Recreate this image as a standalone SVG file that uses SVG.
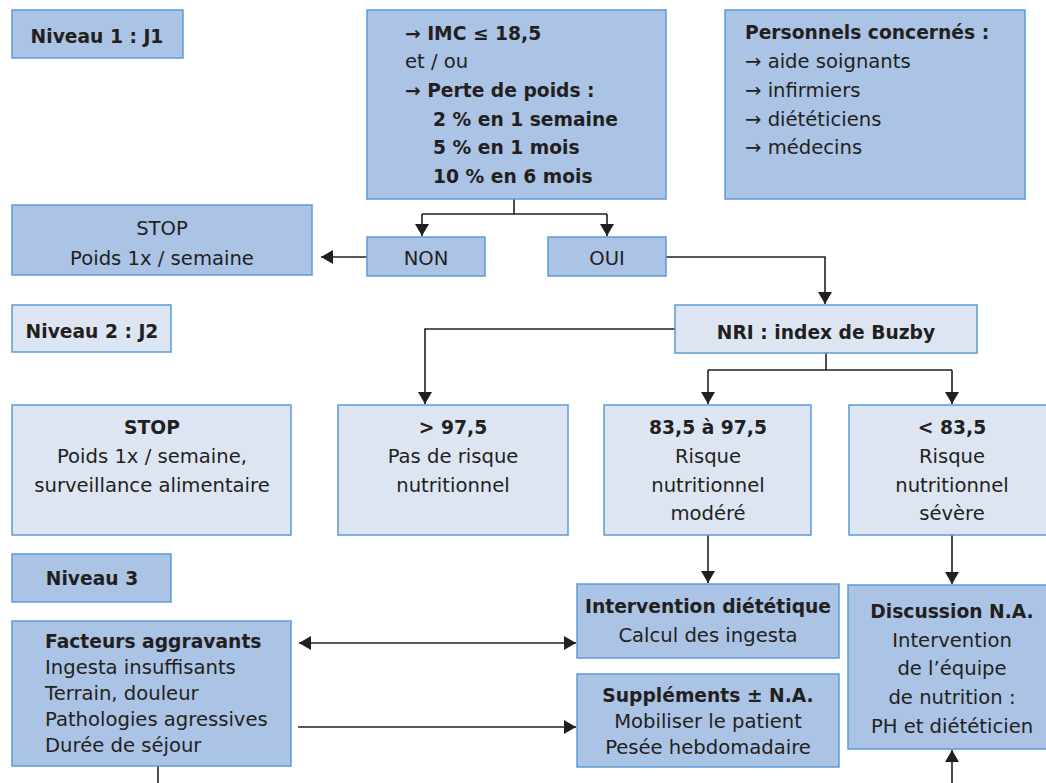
<svg xmlns="http://www.w3.org/2000/svg" width="1046" height="783" viewBox="0 0 1046 783">
<style>
text{font-family:"DejaVu Sans",sans-serif;font-size:19.6px;fill:#231f20}
.b{font-weight:bold;font-size:18.7px}
.c{text-anchor:middle}
.dk{fill:#abc3e5;stroke:#5b9bd5;stroke-width:1.5}
.lt{fill:#dde5f3;stroke:#5b9bd5;stroke-width:1.5}
.ln{fill:none;stroke:#231f20;stroke-width:1.6}
</style>
<defs>
<marker id="ah" viewBox="0 0 12 14" refX="12" refY="7" markerWidth="12" markerHeight="14" markerUnits="userSpaceOnUse" orient="auto-start-reverse">
<path d="M0,0 L12,7 L0,14 Z" fill="#231f20"/>
</marker>
</defs>
<g id="connectors">
<path class="ln" d="M514,199 V214 M422,214 H607" />
<path class="ln" d="M422,214 V236" marker-end="url(#ah)"/>
<path class="ln" d="M607,214 V236" marker-end="url(#ah)"/>
<path class="ln" d="M367,257 H321" marker-end="url(#ah)"/>
<path class="ln" d="M666,257 H825 V304" marker-end="url(#ah)"/>
<path class="ln" d="M675,329 H425 V404" marker-end="url(#ah)"/>
<path class="ln" d="M826,353 V370 M708,370 H952"/>
<path class="ln" d="M708,370 V404" marker-end="url(#ah)"/>
<path class="ln" d="M952,370 V404" marker-end="url(#ah)"/>
<path class="ln" d="M708,535 V583" marker-end="url(#ah)"/>
<path class="ln" d="M952,535 V584" marker-end="url(#ah)"/>
<path class="ln" d="M299,643 H576" marker-start="url(#ah)" marker-end="url(#ah)"/>
<path class="ln" d="M298,727 H576" marker-end="url(#ah)"/>
<path class="ln" d="M158,766 V783"/>
<path class="ln" d="M952,783 V750" marker-end="url(#ah)"/>
</g>
<g id="niveau1">
<rect class="dk" x="12" y="10" width="171" height="48"/>
<text class="b c" x="97" y="43">Niveau 1 : J1</text>
</g>
<g id="criteres">
<rect class="dk" x="367" y="10" width="299" height="189"/>
<text class="b" x="405" y="40">→ IMC ≤ 18,5</text>
<text x="405" y="68">et / ou</text>
<text class="b" x="405" y="97">→ Perte de poids :</text>
<text class="b" x="433" y="126">2 % en 1 semaine</text>
<text class="b" x="433" y="154">5 % en 1 mois</text>
<text class="b" x="433" y="183">10 % en 6 mois</text>
</g>
<g id="personnels">
<rect class="dk" x="725" y="10" width="300" height="189"/>
<text class="b" x="745" y="39">Personnels concernés :</text>
<text x="745" y="68">→ aide soignants</text>
<text x="745" y="97">→ infirmiers</text>
<text x="745" y="126">→ diététiciens</text>
<text x="745" y="154">→ médecins</text>
</g>
<g id="stop1">
<rect class="dk" x="12" y="205" width="300" height="70"/>
<text class="c" x="162" y="235">STOP</text>
<text class="c" x="162" y="265">Poids 1x / semaine</text>
</g>
<g id="non">
<rect class="dk" x="367" y="237" width="118" height="39"/>
<text class="c" x="426" y="265">NON</text>
</g>
<g id="oui">
<rect class="dk" x="548" y="237" width="118" height="39"/>
<text class="c" x="607" y="265">OUI</text>
</g>
<g id="niveau2">
<rect class="lt" x="12" y="305" width="159" height="47"/>
<text class="b c" x="92" y="338">Niveau 2 : J2</text>
</g>
<g id="nri">
<rect class="lt" x="675" y="305" width="302" height="48"/>
<text class="b c" x="826" y="339">NRI : index de Buzby</text>
</g>
<g id="stop2">
<rect class="lt" x="12" y="405" width="279" height="130"/>
<text class="b c" x="152" y="434">STOP</text>
<text class="c" x="152" y="463">Poids 1x / semaine,</text>
<text class="c" x="152" y="492">surveillance alimentaire</text>
</g>
<g id="sup975">
<rect class="lt" x="338" y="405" width="230" height="130"/>
<text class="b c" x="453" y="434">&gt; 97,5</text>
<text class="c" x="453" y="463">Pas de risque</text>
<text class="c" x="453" y="492">nutritionnel</text>
</g>
<g id="modere">
<rect class="lt" x="604" y="405" width="207" height="130"/>
<text class="b c" x="708" y="434">83,5 à 97,5</text>
<text class="c" x="708" y="463">Risque</text>
<text class="c" x="708" y="492">nutritionnel</text>
<text class="c" x="708" y="520">modéré</text>
</g>
<g id="severe">
<rect class="lt" x="849" y="405" width="206" height="130"/>
<text class="b c" x="952" y="434">&lt; 83,5</text>
<text class="c" x="952" y="463">Risque</text>
<text class="c" x="952" y="492">nutritionnel</text>
<text class="c" x="952" y="520">sévère</text>
</g>
<g id="niveau3">
<rect class="dk" x="12" y="554" width="159" height="48"/>
<text class="b c" x="92" y="585">Niveau 3</text>
</g>
<g id="facteurs">
<rect class="dk" x="12" y="621" width="279" height="145"/>
<text class="b" x="45" y="648">Facteurs aggravants</text>
<text x="45" y="674">Ingesta insuffisants</text>
<text x="45" y="700">Terrain, douleur</text>
<text x="45" y="726">Pathologies agressives</text>
<text x="45" y="752">Durée de séjour</text>
</g>
<g id="intervention">
<rect class="dk" x="577" y="584" width="262" height="74"/>
<text class="b c" x="708" y="613">Intervention diététique</text>
<text class="c" x="708" y="642">Calcul des ingesta</text>
</g>
<g id="supplements">
<rect class="dk" x="577" y="674" width="262" height="93"/>
<text class="b c" x="708" y="702">Suppléments ± N.A.</text>
<text class="c" x="708" y="728">Mobiliser le patient</text>
<text class="c" x="708" y="754">Pesée hebdomadaire</text>
</g>
<g id="discussion">
<rect class="dk" x="848" y="585" width="207" height="164"/>
<text class="b c" x="952" y="618">Discussion N.A.</text>
<text class="c" x="952" y="647">Intervention</text>
<text class="c" x="952" y="675">de l’équipe</text>
<text class="c" x="952" y="704">de nutrition :</text>
<text class="c" x="952" y="733">PH et diététicien</text>
</g>
</svg>
